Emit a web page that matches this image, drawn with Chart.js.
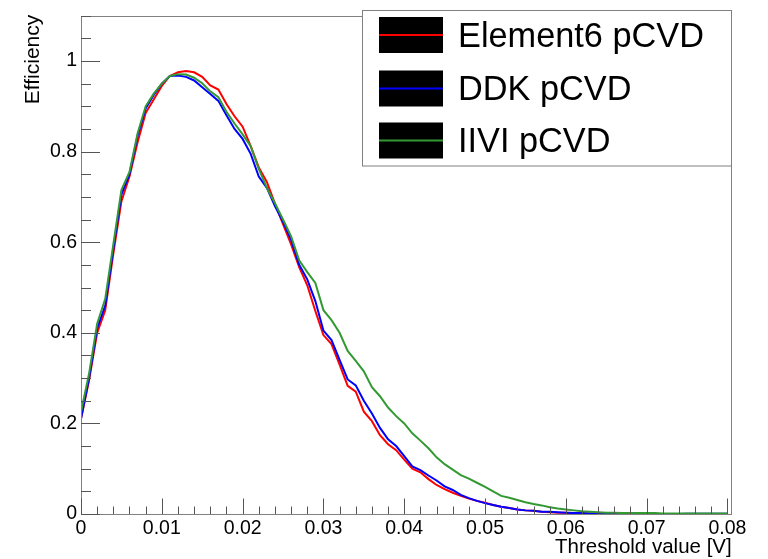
<!DOCTYPE html>
<html><head><meta charset="utf-8">
<script src="https://cdn.jsdelivr.net/npm/chart.js@4/dist/chart.umd.min.js"></script>
<style>html,body{margin:0;padding:0;background:#fff;}canvas{display:block;}</style>
</head><body>
<canvas id="c" width="768" height="559"></canvas>
<script>
const thresholds = [
  0.000,0.001,0.002,0.003,0.004,0.005,0.006,0.007,0.008,0.009,
  0.010,0.011,0.012,0.013,0.014,0.015,0.016,0.017,0.018,0.019,
  0.020,0.021,0.022,0.023,0.024,0.025,0.026,0.027,0.028,0.029,
  0.030,0.031,0.032,0.033,0.034,0.035,0.036,0.037,0.038,0.039,
  0.040,0.041,0.042,0.043,0.044,0.045,0.046,0.047,0.048,0.049,
  0.050,0.051,0.052,0.053,0.054,0.055,0.056,0.057,0.058,0.059,
  0.060,0.061,0.062,0.063,0.064,0.065,0.066,0.067,0.068,0.069,
  0.070,0.071,0.072,0.073,0.074,0.075,0.076,0.077,0.078,0.079,0.080
];
const element6 = [
  0.21,0.295,0.40,0.45,0.575,0.69,0.745,0.82,0.885,0.915,
  0.945,0.967,0.975,0.978,0.975,0.965,0.946,0.937,0.905,0.878,
  0.855,0.812,0.765,0.733,0.685,0.64,0.595,0.545,0.505,0.448,
  0.395,0.375,0.33,0.283,0.27,0.226,0.205,0.174,0.154,0.141,
  0.12,0.10,0.092,0.077,0.064,0.055,0.047,0.040,0.034,0.029,
  0.025,0.020,0.016,0.013,0.010,0.008,0.007,0.005,0.004,0.003,
  0.003,0.002,0.002,0.001,0.001,0.001,0,0,0,0,
  0,0,0,0,0,0,0,0,0,0,0
];
const ddk = [
  0.21,0.30,0.41,0.46,0.585,0.705,0.75,0.835,0.895,0.925,
  0.95,0.967,0.968,0.965,0.957,0.942,0.927,0.912,0.88,0.85,
  0.828,0.795,0.745,0.72,0.68,0.645,0.605,0.55,0.518,0.47,
  0.405,0.384,0.34,0.297,0.284,0.25,0.222,0.19,0.165,0.15,
  0.128,0.105,0.097,0.085,0.074,0.061,0.053,0.042,0.035,0.029,
  0.024,0.020,0.016,0.013,0.010,0.008,0.007,0.005,0.005,0.004,
  0.003,0.002,0.002,0.001,0.001,0.001,0.0005,0,0,0,
  0,0,0,0,0,0.0005,0.0005,0.0005,0.0005,0.0005,0.0005
];
const iivi = [
  0.225,0.31,0.42,0.475,0.595,0.715,0.755,0.84,0.90,0.928,
  0.95,0.967,0.971,0.97,0.963,0.951,0.933,0.92,0.888,0.862,
  0.838,0.812,0.762,0.72,0.686,0.65,0.613,0.56,0.534,0.51,
  0.45,0.428,0.40,0.36,0.338,0.315,0.28,0.26,0.235,0.216,
  0.20,0.178,0.162,0.145,0.125,0.11,0.098,0.086,0.078,0.069,
  0.06,0.05,0.04,0.036,0.031,0.026,0.022,0.019,0.015,0.012,
  0.01,0.008,0.006,0.005,0.004,0.003,0.003,0.002,0.002,0.002,
  0.002,0.002,0.001,0.001,0.001,0.001,0.001,0.001,0.001,0.001,0.001
];
const seriesNames = ['Element6 pCVD','DDK pCVD','IIVI pCVD'];
const xTickValues = [0,0.01,0.02,0.03,0.04,0.05,0.06,0.07,0.08];
const xTickLabels = ['0','0.01','0.02','0.03','0.04','0.05','0.06','0.07','0.08'];
const yTickValues = [0,0.2,0.4,0.6,0.8,1];
const yTickLabels = ['0','0.2','0.4','0.6','0.8','1'];
const xTitle = 'Threshold value [V]';
const yTitle = 'Efficiency';

const FONT = "'Liberation Sans', Arial, Helvetica, sans-serif";

function pts(arr){ return thresholds.map((x,i)=>({x:x, y:arr[i]})); }

const rootStyle = {
  id: 'rootStyle',
  afterDatasetsDraw(chart){
    const ctx = chart.ctx, a = chart.chartArea;
    const xs = chart.scales.x, ys = chart.scales.y;
    ctx.save();
    // frame
    ctx.strokeStyle = '#808080';
    ctx.lineWidth = 1;
    ctx.strokeRect(Math.round(a.left)+0.5, Math.round(a.top)+0.5, Math.round(a.right-a.left), Math.round(a.bottom-a.top));
    // ticks
    ctx.strokeStyle = '#555';
    ctx.lineWidth = 1;
    ctx.beginPath();
    for (let k = 0; k <= 40; k++) {
      const v = k*0.002;
      const px = Math.round(xs.getPixelForValue(v)) + 0.5;
      const len = (k % 5 === 0) ? 15.5 : 7.5;
      ctx.moveTo(px, a.bottom); ctx.lineTo(px, a.bottom - len);
    }
    for (let k = 0; k <= 22; k++) {
      const v = k*0.05;
      if (v > ys.max + 1e-9) break;
      const py = Math.round(ys.getPixelForValue(v)) + 0.5;
      const len = (k % 4 === 0) ? 19 : 10;
      ctx.moveTo(a.left, py); ctx.lineTo(a.left + len, py);
    }
    ctx.stroke();
    // axis titles
    ctx.fillStyle = '#000';
    ctx.font = '20.5px ' + FONT;
    ctx.textAlign = 'right';
    ctx.textBaseline = 'alphabetic';
    ctx.fillText(xTitle, a.right + 1, 553);
    ctx.save();
    ctx.font = '21px ' + FONT;
    ctx.translate(39, a.top - 1);
    ctx.rotate(-Math.PI/2);
    ctx.textAlign = 'right';
    ctx.fillText(yTitle, 0, 0);
    ctx.restore();
    // legend
    const lx = 362.5, ly = 10.5, lw = 369, lh = 155.5;
    ctx.fillStyle = '#fff';
    ctx.fillRect(lx, ly, lw, lh);
    ctx.strokeStyle = '#808080';
    ctx.lineWidth = 1;
    ctx.strokeRect(lx, ly, lw, lh);
    const rowsY = [35, 88.5, 140.5];
    chart.data.datasets.forEach((ds, i) => {
      const cy = rowsY[i];
      ctx.fillStyle = '#000';
      ctx.fillRect(379, cy - 18, 64, 36);
      ctx.strokeStyle = ds.borderColor;
      ctx.lineWidth = 2;
      ctx.beginPath(); ctx.moveTo(379, cy); ctx.lineTo(443, cy); ctx.stroke();
      ctx.fillStyle = '#000';
      ctx.font = '34.3px ' + FONT;
      ctx.textAlign = 'left';
      ctx.textBaseline = 'alphabetic';
      ctx.fillText(ds.label, 458, cy + 11.7);
    });
    ctx.restore();
  }
};

new Chart(document.getElementById('c'), {
  type: 'line',
  data: {
    datasets: [
      {label: seriesNames[0], data: pts(element6), borderColor: '#ff0000', order: 3},
      {label: seriesNames[1], data: pts(ddk), borderColor: '#0000ff', order: 2},
      {label: seriesNames[2], data: pts(iivi), borderColor: '#339933', order: 1}
    ]
  },
  options: {
    responsive: false,
    animation: false,
    devicePixelRatio: 1,
    events: [],
    datasets: { line: { borderWidth: 2, pointRadius: 0, tension: 0, fill: false } },
    layout: { padding: { left: 0, right: 37.3, top: 10, bottom: 0 } },
    plugins: { legend: { display: false }, tooltip: { enabled: false }, title: { display: false } },
    scales: {
      x: {
        type: 'linear', min: 0, max: 0.0804,
        grid: { display: false, drawTicks: false },
        border: { display: false },
        afterBuildTicks(s){ s.ticks = xTickValues.map(v => ({value: v})); },
        afterFit(s){ s.height = 45; },
        ticks: {
          padding: 3, maxRotation: 0, autoSkip: false,
          color: '#000', font: { family: FONT, size: 19.5 },
          callback(v){ const i = xTickValues.findIndex(t => Math.abs(t - v) < 1e-9); return i >= 0 ? xTickLabels[i] : ''; }
        }
      },
      y: {
        type: 'linear', min: 0, max: 1.1,
        grid: { display: false, drawTicks: false },
        border: { display: false },
        afterBuildTicks(s){ s.ticks = yTickValues.map(v => ({value: v})); },
        afterFit(s){ s.width = 81; },
        ticks: {
          padding: 4, autoSkip: false,
          color: '#000', font: { family: FONT, size: 19.5 },
          callback(v){ const i = yTickValues.findIndex(t => Math.abs(t - v) < 1e-9); return i >= 0 ? yTickLabels[i] : ''; }
        }
      }
    }
  },
  plugins: [rootStyle]
});
</script>
</body></html>
